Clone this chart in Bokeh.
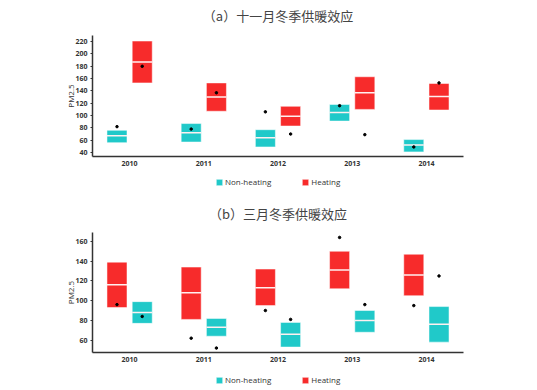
from bokeh.plotting import figure
from bokeh.models import FactorRange, Range1d, Legend, LegendItem, ColumnDataSource, FixedTicker
from bokeh.core.properties import value
from bokeh.transform import dodge
from bokeh.layouts import column
from bokeh.embed import file_html
from bokeh.resources import INLINE

years = ["2010", "2011", "2012", "2013", "2014"]
titles = ["（a）十一月冬季供暖效应", "（b）三月冬季供暖效应"]

# (a) November
nov_non_q1 = [56, 57, 49, 91, 41]
nov_non_med = [67, 72, 64, 105, 52]
nov_non_q3 = [76, 87, 77, 118, 61]
nov_non_dot = [82, 78, 106, 116, 49]
nov_heat_q1 = [153, 107, 83, 110, 109]
nov_heat_med = [187, 130, 99, 137, 131]
nov_heat_q3 = [221, 153, 115, 163, 152]
nov_heat_dot = [180, 137, 70, 69, 153]

# (b) March
mar_heat_q1 = [93, 81, 95, 112, 105]
mar_heat_med = [116, 108, 113, 131, 126]
mar_heat_q3 = [139, 134, 132, 150, 147]
mar_heat_dot = [96, 62, 90, 164, 95]
mar_non_q1 = [77, 64, 53, 68, 58]
mar_non_med = [88, 73, 66, 80, 76]
mar_non_q3 = [99, 82, 78, 90, 94]
mar_non_dot = [84, 52, 81, 96, 125]

nov_ticks = [40, 60, 80, 100, 120, 140, 160, 180, 200, 220]
mar_ticks = [60, 80, 100, 120, 140, 160]
legend_labels = ["Non-heating", "Heating"]

CYAN = "#20C9C9"
RED = "#F72B2B"
FONT = "Open Sans"
W = 488


def blank(height):
    p = figure(width=W, height=height, output_backend="svg", toolbar_location=None,
               x_range=Range1d(0, 1), y_range=Range1d(0, 1),
               x_axis_location=None, y_axis_location=None,
               min_border_left=92, min_border_right=25, min_border_top=0, min_border_bottom=0)
    p.grid.visible = False
    p.outline_line_color = None
    return p


def make_title(text, height, y_pos):
    p = blank(height)
    p.text(x=[0.5], y=[y_pos], text=[text], text_align="center", text_baseline="middle",
           text_font=value("Noto Sans CJK SC"), text_font_size="13px", text_color="#444444")
    return p


def make_panel(series, y_lo, y_hi, ticks, height, b_top, b_bottom):
    p = figure(x_range=FactorRange(*years), y_range=Range1d(y_lo, y_hi),
               width=W, height=height, output_backend="svg", toolbar_location=None,
               min_border_left=92, min_border_right=25, min_border_top=b_top,
               min_border_bottom=b_bottom)
    for (q1, med, q3, dot, color, off) in series:
        src = ColumnDataSource(dict(year=years, q1=q1, med=med, q3=q3, dot=dot))
        x = dodge("year", off, range=p.x_range)
        p.vbar(x=x, width=0.27, top="q3", bottom="q1", source=src,
               fill_color=color, line_color="white", line_alpha=0.5, line_width=1)
        p.rect(x=x, y="med", width=0.27, height=1.5, height_units="screen", source=src,
               fill_color="#FFF0F0", line_color=None)
        p.scatter(x=x, y="dot", size=2.5, color="black", source=src)

    p.xgrid.visible = False
    p.ygrid.visible = False
    p.outline_line_color = None
    for ax in (p.xaxis, p.yaxis):
        ax.axis_line_color = "#333333"
        ax.axis_line_width = 1.5
        ax.minor_tick_line_color = None
        ax.major_label_text_font = FONT
        ax.major_label_text_font_size = "7px"
        ax.major_label_text_font_style = "bold"
        ax.major_label_text_color = "#333333"
    p.xaxis.major_tick_line_color = None
    p.xaxis.major_label_standoff = -2
    p.yaxis.ticker = FixedTicker(ticks=ticks)
    p.yaxis.major_tick_out = 2
    p.yaxis.major_tick_in = 0
    p.yaxis.major_tick_line_color = "#333333"
    p.yaxis.major_label_standoff = 3
    p.yaxis.axis_label = "PM2.5"
    p.yaxis.axis_label_text_font = FONT
    p.yaxis.axis_label_text_font_size = "8px"
    p.yaxis.axis_label_text_font_style = "normal"
    p.yaxis.axis_label_text_color = "#333333"
    p.yaxis.axis_label_standoff = -4
    return p


def make_legend(height, y_off):
    p = blank(height)
    # legend swatches only: each dummy bar lies outside the visible range
    r_non = p.vbar(x=[-5], top=[-5], bottom=[-6], width=0.1, fill_color=CYAN,
                   line_color="white", line_alpha=0.5)
    r_heat = p.vbar(x=[-5], top=[-5], bottom=[-6], width=0.1, fill_color=RED,
                    line_color="white", line_alpha=0.5)
    legend = Legend(items=[LegendItem(label=legend_labels[0], renderers=[r_non]),
                           LegendItem(label=legend_labels[1], renderers=[r_heat])],
                    orientation="horizontal", location=(123, y_off))
    legend.border_line_color = None
    legend.background_fill_alpha = 0
    legend.glyph_width = 8
    legend.glyph_height = 8
    legend.label_standoff = 2
    legend.spacing = 30
    legend.padding = 2
    legend.margin = 0
    legend.label_text_font = FONT
    legend.label_text_font_size = "8px"
    legend.label_text_color = "#333333"
    legend.label_height = 8
    p.add_layout(legend)
    return p


title_a = make_title(titles[0], 27, 0.444)
top = make_panel([(nov_non_q1, nov_non_med, nov_non_q3, nov_non_dot, CYAN, -0.17),
                  (nov_heat_q1, nov_heat_med, nov_heat_q3, nov_heat_dot, RED, 0.17)],
                 33.5, 230, nov_ticks, 147, 8, 18)
leg1 = make_legend(18, 5)
title_b = make_title(titles[1], 32, 0.344)
bottom = make_panel([(mar_heat_q1, mar_heat_med, mar_heat_q3, mar_heat_dot, RED, -0.17),
                     (mar_non_q1, mar_non_med, mar_non_q3, mar_non_dot, CYAN, 0.17)],
                    47.5, 169, mar_ticks, 146, 8, 18)
leg2 = make_legend(20, 5)

layout = column(title_a, top, leg1, title_b, bottom, leg2, spacing=0)
open("out.html", "w").write(file_html(layout, INLINE))
